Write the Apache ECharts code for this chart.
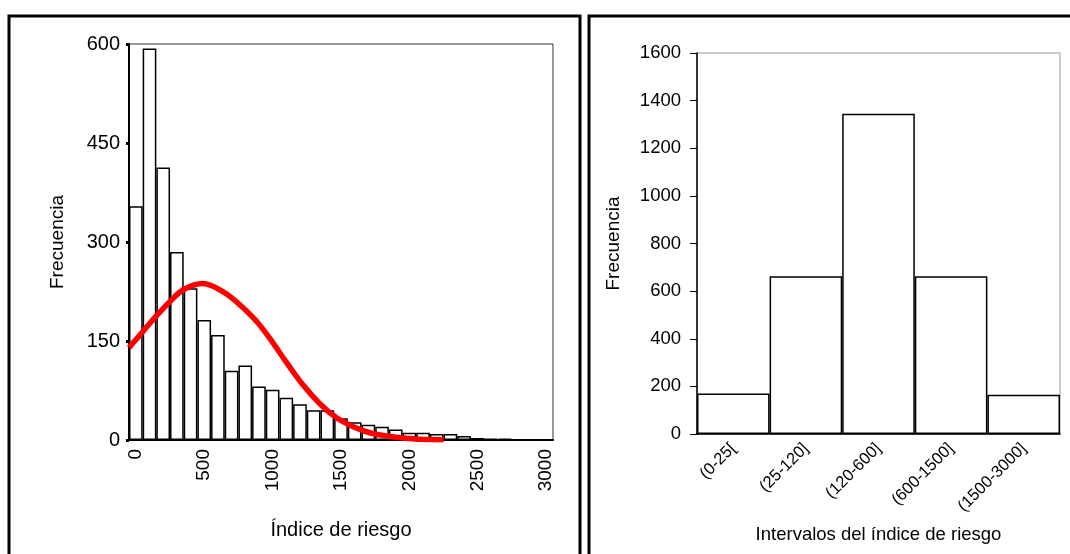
<!DOCTYPE html>
<html>
<head>
<meta charset="utf-8">
<script src="https://cdn.jsdelivr.net/npm/echarts@6/dist/echarts.min.js"></script>
<style>
html,body{margin:0;padding:0;background:#fff;}
#chart{width:1070px;height:554px;}
</style>
</head>
<body>
<div id="chart"></div>
<script>
// Left histogram: bin centers (tick labels) and counts
const binCenters = ['0','100','200','300','400','500','600','700','800','900','1000','1100','1200','1300','1400','1500','1600','1700','1800','1900','2000','2100','2200','2300','2400','2500','2600','2700','2800','2900','3000'];
const histCounts = [354, 593, 413, 285, 230, 182, 159, 105, 113, 81, 76, 64, 54, 45, 45, 33, 27, 23, 20, 16, 11, 11, 9, 9, 6, 3, 2, 2, 1, 1, 1];

// Fitted normal curve
const curveX = [-50, 50, 150, 250, 350, 490, 650, 770, 890, 1000, 1100, 1220, 1345, 1465, 1590, 1710, 1835, 1955, 2080, 2250];
const curveY = [140, 164, 188, 210, 228, 237, 223, 203, 178, 148, 118, 84, 55, 34, 20, 11, 6, 3, 1, 0.5];

// Right chart: risk index intervals
const intervalLabels = ['(0-25[', '(25-120]', '(120-600]', '(600-1500]', '(1500-3000]'];
const intervalCounts = [170, 662, 1345, 662, 165];

const FONT = '"Liberation Sans", Arial, sans-serif';
const curveData = curveX.map((x, i) => [x, curveY[i]]);
const plain = v => String(v);

const chart = echarts.init(document.getElementById('chart'), null, {renderer: 'canvas'});
chart.setOption({
  animation: false,
  backgroundColor: '#fff',
  textStyle: {fontFamily: FONT, color: '#000'},
  graphic: [
    {type: 'rect', shape: {x: 9, y: 16, width: 571, height: 620}, style: {fill: 'none', stroke: '#000', lineWidth: 3}, z: 0},
    {type: 'rect', shape: {x: 589, y: 16, width: 620, height: 620}, style: {fill: 'none', stroke: '#000', lineWidth: 3}, z: 0}
  ],
  grid: [
    {left: 129, top: 44, right: 1070 - 553, bottom: 554 - 440, show: true, borderColor: '#333', borderWidth: 1, backgroundColor: 'transparent'},
    {left: 697, top: 53, right: 1070 - 1060, bottom: 554 - 434, show: true, borderColor: '#999', borderWidth: 1, backgroundColor: 'transparent'}
  ],
  xAxis: [
    {
      type: 'category', gridIndex: 0, data: binCenters, boundaryGap: true,
      name: 'Índice de riesgo', nameLocation: 'middle', nameGap: 80,
      nameTextStyle: {fontSize: 20, color: '#000', fontFamily: FONT},
      axisLine: {onZero: false, lineStyle: {color: '#000', width: 2}},
      axisTick: {alignWithLabel: true, interval: 4, length: 4, lineStyle: {color: '#000', width: 3}},
      axisLabel: {interval: 4, rotate: 90, fontSize: 19, margin: 9, color: '#000', fontFamily: FONT},
      splitLine: {show: false}
    },
    {
      type: 'value', gridIndex: 0, min: -50, max: 3050, show: false,
      axisLine: {onZero: false}
    },
    {
      type: 'category', gridIndex: 1, data: intervalLabels, boundaryGap: true,
      name: 'Intervalos del índice de riesgo', nameLocation: 'middle', nameGap: 91,
      nameTextStyle: {fontSize: 18.5, color: '#000', fontFamily: FONT},
      axisLine: {onZero: false, lineStyle: {color: '#000', width: 1.5}},
      axisTick: {length: 6, lineStyle: {color: '#000', width: 1}},
      axisLabel: {rotate: 45, fontSize: 16.5, margin: 12, color: '#000', fontFamily: FONT},
      splitLine: {show: false}
    }
  ],
  yAxis: [
    {
      type: 'value', gridIndex: 0, min: 0, max: 600, interval: 150,
      name: 'Frecuencia', nameLocation: 'middle', nameGap: 62, nameRotate: 90,
      nameTextStyle: {fontSize: 19, color: '#000', fontFamily: FONT},
      axisLine: {show: true, onZero: false, lineStyle: {color: '#000', width: 2}},
      axisTick: {show: true, length: 3, lineStyle: {color: '#000', width: 3}},
      axisLabel: {fontSize: 20, margin: 9, color: '#000', fontFamily: FONT, formatter: plain},
      splitLine: {show: false}
    },
    {
      type: 'value', gridIndex: 1, min: 0, max: 1600, interval: 200,
      name: 'Frecuencia', nameLocation: 'middle', nameGap: 74, nameRotate: 90,
      nameTextStyle: {fontSize: 19, color: '#000', fontFamily: FONT},
      axisLine: {show: true, onZero: false, lineStyle: {color: '#000', width: 1.5}},
      axisTick: {show: true, length: 7, lineStyle: {color: '#000', width: 1}},
      axisLabel: {fontSize: 18.5, margin: 16, color: '#000', fontFamily: FONT, formatter: plain},
      splitLine: {show: false}
    }
  ],
  series: [
    {
      type: 'bar', xAxisIndex: 0, yAxisIndex: 0, data: histCounts,
      barCategoryGap: '0%',
      itemStyle: {color: '#fff', borderColor: '#000', borderWidth: 1.5},
      z: 2
    },
    {
      type: 'line', xAxisIndex: 1, yAxisIndex: 0, data: curveData,
      smooth: 0.35, symbol: 'none', clip: true,
      lineStyle: {color: '#ff0000', width: 5.5},
      z: 5
    },
    {
      type: 'bar', xAxisIndex: 2, yAxisIndex: 1, data: intervalCounts,
      barCategoryGap: '0%',
      itemStyle: {color: '#fff', borderColor: '#000', borderWidth: 1.5},
      z: 2
    }
  ]
});
</script>
</body>
</html>
